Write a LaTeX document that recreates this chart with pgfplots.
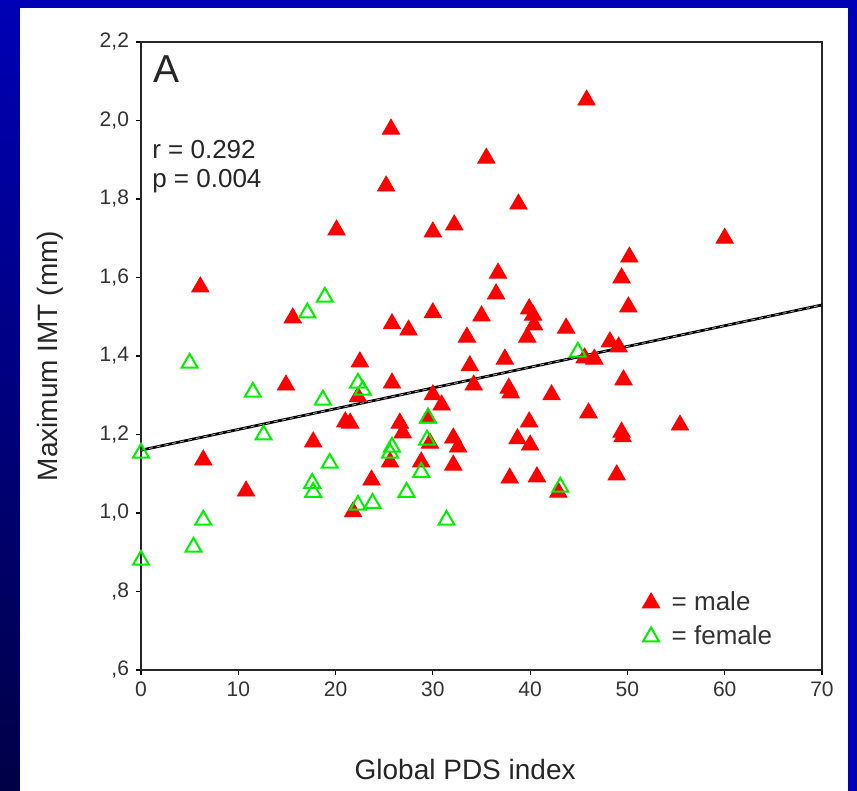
\documentclass[border=0pt]{standalone}
\usepackage{fontspec}
\setmainfont{Liberation Sans}
\usepackage{pgfplots}
\pgfplotsset{compat=1.18}
\definecolor{bgblue}{RGB}{0,0,182}
\definecolor{bgdark}{RGB}{0,0,70}
\definecolor{mred}{RGB}{255,0,0}
\definecolor{fgreen}{RGB}{0,240,0}
\begin{document}
\begin{tikzpicture}[x=1pt,y=1pt]
\fill[bgblue] (0,0) rectangle (428.5,395.5);
\shade[top color=bgblue,bottom color=bgdark] (0,0) rectangle (10,395.5);
\fill[white] (10,0) rectangle (424,391.5);
\begin{axis}[
  at={(70.5pt,60.5pt)}, anchor=south west,
  scale only axis, width=340.5pt, height=314pt,
  xmin=0, xmax=70, ymin=0.6, ymax=2.2,
  clip=false,
  xtick={0,10,20,30,40,50,60,70},
  ytick={0.6,0.8,1.0,1.2,1.4,1.6,1.8,2.0,2.2},
  yticklabels={{,6},{,8},{1,0},{1,2},{1,4},{1,6},{1,8},{2,0},{2,2}},
  tick align=outside, xtick pos=left, ytick pos=left,
  major tick length=2.5pt,
  tick style={black, line width=0.6pt},
  axis line style={line width=1pt, black!85},
  /pgf/number format/assume math mode=true,
  ticklabel style={font=\fontsize{10.5}{12}\selectfont, text=black!80},
  xlabel={Global PDS index}, ylabel={Maximum IMT (mm)},
  label style={font=\fontsize{14}{16}\selectfont, text=black!85},
  xlabel style={at={(axis description cs:0.476,-0.175)}, anchor=base},
  ylabel style={at={(axis description cs:-0.122,0.5)}, anchor=base},
  legend style={at={(axis cs:51.5,0.81)}, anchor=north west, draw=none, fill=none,
    font=\fontsize{13}{15}\selectfont, text=black!80, inner sep=0pt, row sep=2pt,
    /tikz/every odd column/.append style={column sep=4pt}},
  legend cell align=left,
  legend image code/.code={\draw[#1] plot coordinates {(0pt,0pt)};},
]
\addplot[only marks, mark=triangle*, mark size=5pt, mark options={draw=mred, fill=mred}] coordinates {
(45.8,2.052) (25.7,1.978) (35.5,1.904) (25.2,1.833) (38.8,1.787) (20.1,1.721)
(32.2,1.734) (30.0,1.716) (60.0,1.700) (50.2,1.652) (6.1,1.576) (36.7,1.611)
(49.4,1.599) (36.5,1.558) (50.1,1.525) (15.6,1.497) (30.0,1.510) (35.0,1.502)
(39.9,1.520) (40.3,1.504) (40.4,1.479) (25.8,1.482) (27.5,1.466) (43.7,1.471)
(33.5,1.448) (39.7,1.448) (48.2,1.436) (49.1,1.423) (45.6,1.395) (46.6,1.392)
(22.5,1.385) (37.4,1.392) (33.8,1.375) (14.9,1.326) (25.8,1.331) (49.6,1.339)
(34.2,1.326) (37.8,1.318) (38.0,1.306) (22.3,1.296) (30.0,1.301) (30.9,1.275)
(42.2,1.301) (46.0,1.255) (21.0,1.232) (21.5,1.229) (26.6,1.229) (26.9,1.204)
(39.9,1.232) (38.7,1.189) (32.1,1.191) (32.6,1.168) (29.7,1.178) (17.7,1.181)
(40.0,1.173) (49.4,1.206) (49.5,1.194) (55.4,1.224) (6.4,1.135) (25.6,1.130)
(28.8,1.130) (32.1,1.122) (37.9,1.089) (40.7,1.092) (48.9,1.097) (23.7,1.084)
(10.8,1.056) (42.9,1.053) (21.8,1.003) (29.5,1.242)
};
\addlegendentry{= male}
\addplot[only marks, mark=triangle, mark size=4.6pt, mark options={draw=fgreen, line width=1pt}] coordinates {
(0.0,1.153) (0.0,0.880) (5.0,1.382) (5.4,0.913) (6.4,0.982) (11.5,1.308)
(12.6,1.199) (17.1,1.510) (18.9,1.550) (18.7,1.288) (17.6,1.076) (17.7,1.053)
(19.4,1.127) (22.3,1.331) (22.8,1.313) (22.3,1.020) (23.8,1.025) (25.8,1.168)
(25.6,1.153) (27.3,1.053) (28.8,1.104) (29.4,1.186) (29.5,1.242) (31.4,0.982)
(44.9,1.410) (43.1,1.066)
};
\addlegendentry{= female}
\addplot[forget plot, black, line width=1.4pt] coordinates {(0,1.16) (70,1.53)};
\addplot[forget plot, black!35, line width=0.45pt, dash pattern=on 2pt off 2pt] coordinates {(0,1.16) (70,1.53)};
\node[anchor=base west, font=\fontsize{19.5}{22}\selectfont, text=black!85, inner sep=0pt] at (rel axis cs:0.018,0.935) {A};
\node[anchor=base west, font=\fontsize{13}{15}\selectfont, text=black!85, inner sep=0pt] at (rel axis cs:0.016,0.815) {r = 0.292};
\node[anchor=base west, font=\fontsize{13}{15}\selectfont, text=black!85, inner sep=0pt] at (rel axis cs:0.016,0.769) {p = 0.004};
\end{axis}
\pgfresetboundingbox
\useasboundingbox (0,0) rectangle (428.5,395.5);
\end{tikzpicture}
\end{document}
